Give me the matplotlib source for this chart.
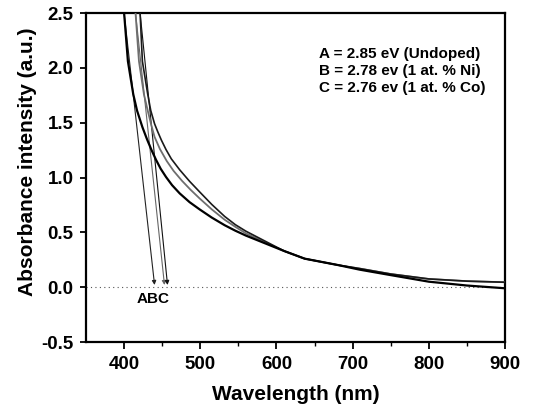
import matplotlib
matplotlib.use("Agg")
import matplotlib.pyplot as plt

plt.rcParams['font.family'] = ['Liberation Sans', 'DejaVu Sans']

# Curve A (undoped)
wl_a = [395, 400, 405, 412, 417, 424, 430, 436, 442, 448, 455, 463, 473, 486, 499, 515, 532, 546, 560, 585, 610, 637, 682, 709, 750, 800, 850, 900]
abs_a = [2.9, 2.5, 2.06, 1.76, 1.61, 1.46, 1.35, 1.25, 1.16, 1.08, 1.005, 0.93, 0.855, 0.775, 0.71, 0.635, 0.565, 0.515, 0.47, 0.40, 0.33, 0.26, 0.20, 0.16, 0.11, 0.05, 0.015, -0.01]
# Curve B (1 at.% Ni)
wl_b = [411, 415, 419.5, 426, 431, 436, 440, 447, 456, 465, 476, 487, 499, 515, 532, 546, 560, 585, 610, 637, 682, 709, 750, 800, 850, 900]
abs_b = [2.85, 2.5, 2.06, 1.76, 1.61, 1.47, 1.37, 1.26, 1.15, 1.06, 0.97, 0.89, 0.81, 0.71, 0.615, 0.55, 0.49, 0.41, 0.33, 0.26, 0.20, 0.17, 0.12, 0.075, 0.055, 0.045]
# Curve C (1 at.% Co)
wl_c = [417, 421, 424, 431, 435, 440, 444, 449, 455, 462, 473, 486, 499, 515, 532, 546, 560, 585, 610, 637, 682, 709, 750, 800, 850, 900]
abs_c = [2.85, 2.5, 2.06, 1.76, 1.61, 1.49, 1.42, 1.34, 1.255, 1.17, 1.07, 0.965, 0.87, 0.755, 0.645, 0.57, 0.51, 0.42, 0.33, 0.26, 0.20, 0.17, 0.12, 0.075, 0.055, 0.045]

# Tangent (band-gap extrapolation) lines: start (wl, abs) -> end (wl, abs)
tan_start_wl = [400, 415, 421]
tan_end_wl = [440, 453, 457]
tan_start_v = [2.5, 2.5, 2.5]
tan_end_v = [0.02, 0.02, 0.02]

labels = ["A = 2.85 eV (Undoped)", "B = 2.78 ev (1 at. % Ni)", "C = 2.76 ev (1 at. % Co)"]

fig = plt.figure(figsize=(5.43, 4.09), dpi=100)
ax = fig.add_axes([0.1584, 0.1638, 0.7716, 0.8044])

ax.axhline(0, color='#555555', lw=0.8, ls=(0, (1, 3)), zorder=1)

ax.plot(wl_b, abs_b, color='#6e6e6e', lw=1.3, zorder=3)
ax.plot(wl_c, abs_c, color='#1a1a1a', lw=1.2, zorder=3)
ax.plot(wl_a, abs_a, color='black', lw=1.6, zorder=4)

tan_colors = ['#222222', '#666666', '#111111']
for s_wl, e_wl, s_v, e_v, c in zip(tan_start_wl, tan_end_wl, tan_start_v, tan_end_v, tan_colors):
    ax.annotate('', xy=(e_wl, e_v), xytext=(s_wl, s_v),
                arrowprops=dict(arrowstyle='-|>', color=c, lw=0.8,
                                mutation_scale=6, shrinkA=0, shrinkB=0),
                zorder=2)

ax.text(438, -0.11, 'ABC', ha='center', va='center', fontsize=11, fontweight='bold')

for i, lab in enumerate(labels):
    ax.text(0.555, 0.862 - i * 0.0515, lab, transform=ax.transAxes,
            ha='left', va='baseline', fontsize=11, fontweight='bold')

ax.set_xlim(350, 900)
ax.set_ylim(-0.5, 2.5)
ax.set_xticks([400, 500, 600, 700, 800, 900])
ax.set_xticks([450, 550, 650, 750, 850], minor=True)
ax.set_yticks([-0.5, 0.0, 0.5, 1.0, 1.5, 2.0, 2.5])
ax.set_yticklabels(['-0.5', '0.0', '0.5', '1.0', '1.5', '2.0', '2.5'])

for sp in ax.spines.values():
    sp.set_linewidth(1.6)

ax.tick_params(axis='x', which='major', direction='out', length=5, width=1.3,
               labelsize=13.5, pad=5)
ax.tick_params(axis='y', which='major', direction='out', length=4, width=1.3,
               labelsize=13.5, pad=5)
ax.tick_params(axis='x', which='minor', direction='out', length=3, width=1.0)
for lab in ax.get_xticklabels() + ax.get_yticklabels():
    lab.set_fontweight('bold')

ax.set_xlabel('Wavelength (nm)', fontsize=15, fontweight='bold', labelpad=9)
ax.set_ylabel('Absorbance intensity (a.u.)', fontsize=15, fontweight='bold')
ax.yaxis.set_label_coords(-0.118, 0.547)

fig.savefig('out.png', dpi=100)
